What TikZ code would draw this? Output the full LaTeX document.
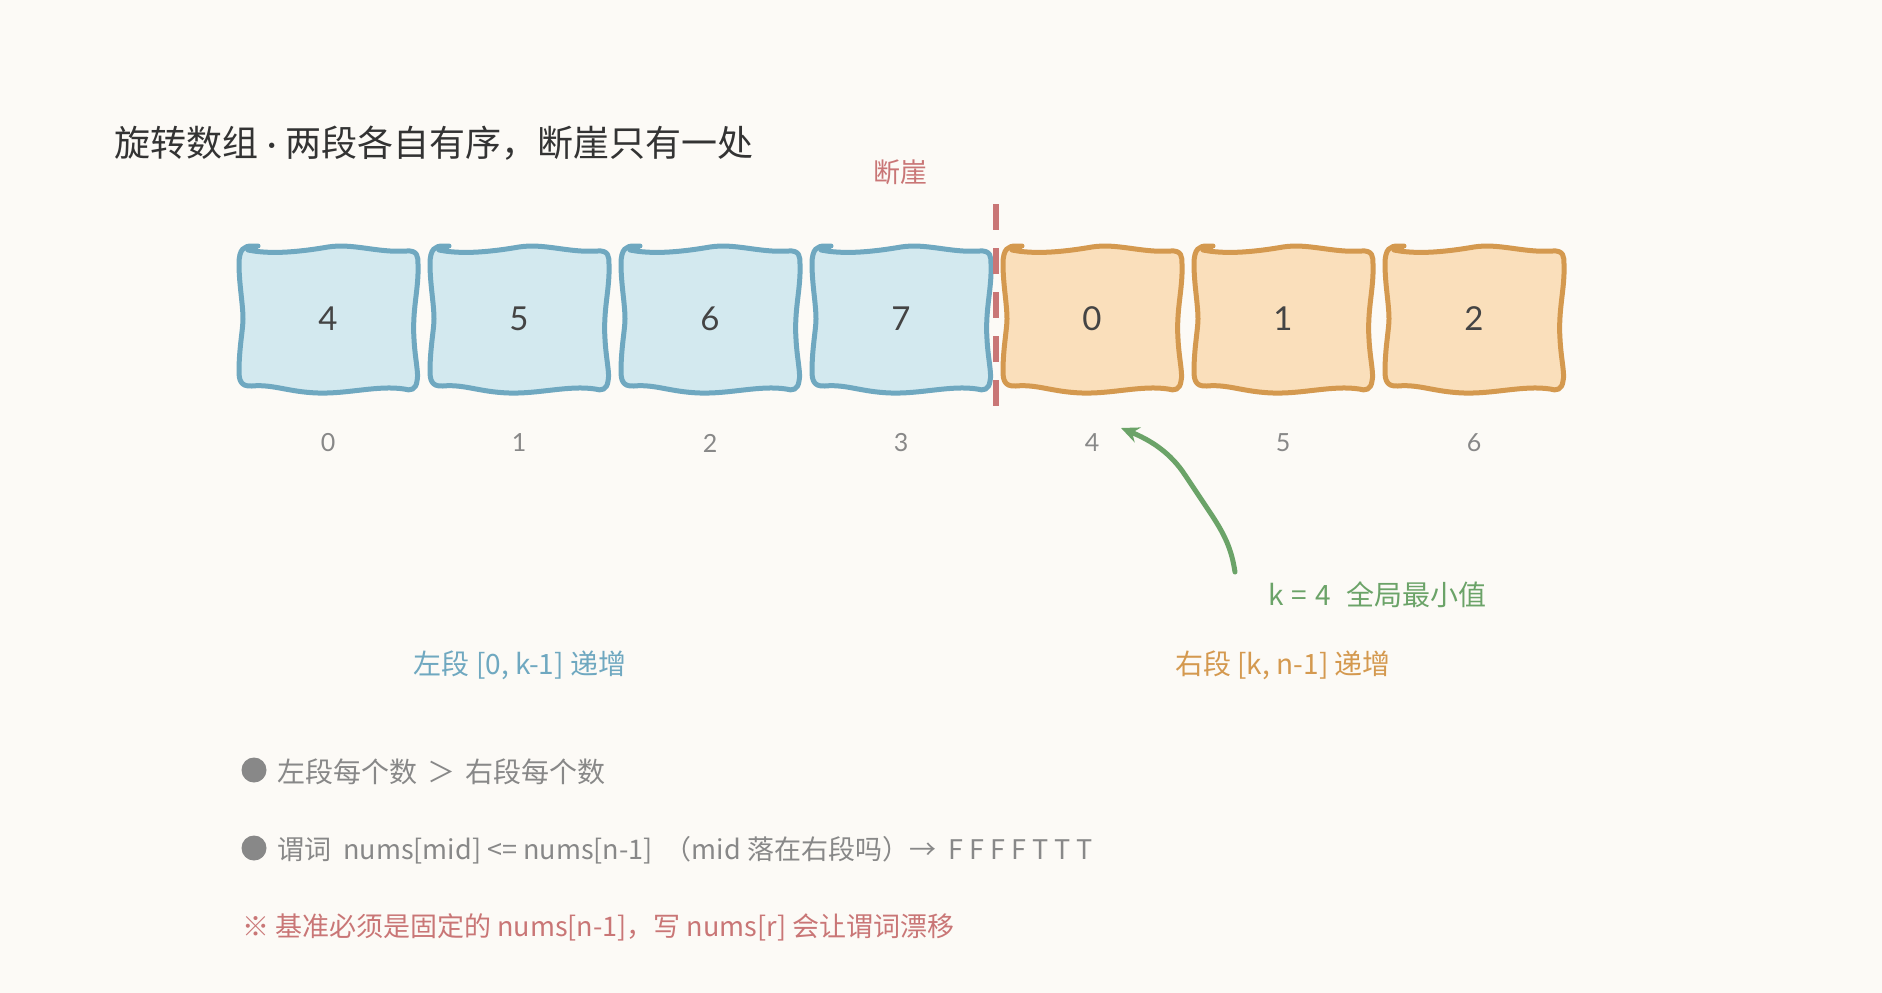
\documentclass[tikz,border=0pt]{standalone}
\usepackage{fontspec}
\newfontfamily\cjk{Noto Sans CJK SC}
\newfontfamily\latf{Lato}
\usetikzlibrary{arrows.meta}
\definecolor{bgc}{HTML}{FCFAF6}
\definecolor{bstroke}{HTML}{6FA8C0}
\definecolor{bfill}{HTML}{D3E9EF}
\definecolor{ostroke}{HTML}{D4994F}
\definecolor{ofill}{HTML}{FADFBB}
\definecolor{gcol}{HTML}{6BA368}
\definecolor{rcol}{HTML}{C97676}
\definecolor{greyt}{HTML}{888888}
\definecolor{titlec}{HTML}{333333}
\definecolor{digc}{HTML}{444444}
\newcommand{\myfs}[1]{\fontsize{#1}{#1}\selectfont}
\newcommand{\wbox}[3]{%
\begin{scope}[shift={(#1,319)}]
\filldraw[draw=#2, fill=#3, line width=5pt, line join=round, line cap=round]
 (-80,-69) .. controls (-60,-65) and (-35,-66) .. (0,-72)
 .. controls (25,-76) and (50,-66) .. (78,-68)
 .. controls (90,-69) and (90,-62) .. (90,-55)
 .. controls (91,-30) and (84,-10) .. (86,20)
 .. controls (87,40) and (91,55) .. (89,62)
 .. controls (88,71) and (82,72) .. (76,70)
 .. controls (50,66) and (20,75) .. (-10,74)
 .. controls (-40,73) and (-55,65) .. (-76,67)
 .. controls (-88,68) and (-89,60) .. (-89,52)
 .. controls (-89,30) and (-85,10) .. (-85,0)
 .. controls (-85,-15) and (-89,-35) .. (-89,-55)
 .. controls (-89,-70) and (-84,-73) .. (-76,-73)
 -- (-70,-73);
\end{scope}}
\tikzset{
  val/.style={font=\latf\myfs{33}, text=digc, inner sep=0pt},
  idx/.style={font=\latf\myfs{25}, text=greyt, inner sep=0pt},
  lbl/.style={font=\cjk\myfs{28}, inner sep=0pt},
  cliff/.style={draw=rcol, line width=6pt, dash pattern=on 26pt off 18pt},
  karrow/.style={draw=gcol, line width=5pt, line cap=round, -{Stealth[length=18pt,width=16pt]}},
  bullet/.style={circle, fill=greyt, minimum size=25pt, inner sep=0pt},
}
\begin{document}
\begin{tikzpicture}[x=1pt,y=-1pt]
\fill[bgc] (0,0) rectangle (1882,993);
\useasboundingbox (0,0) rectangle (1882,993);

\node[lbl, anchor=west, text=titlec, font=\cjk\myfs{36}] (title) at (114,143) {旋转数组\hspace{9pt}{\latf ·}\hspace{9pt}两段各自有序，断崖只有一处};
\node[lbl, text=rcol, font=\cjk\myfs{27}] (cliffl) at (900,172) {断崖};

\wbox{328}{bstroke}{bfill}
\wbox{519}{bstroke}{bfill}
\wbox{710}{bstroke}{bfill}
\wbox{901}{bstroke}{bfill}
\wbox{1092}{ostroke}{ofill}
\wbox{1283}{ostroke}{ofill}
\wbox{1474}{ostroke}{ofill}

\node[val] (v0) at (328,319) {4};
\node[val] (v1) at (519,319) {5};
\node[val] (v2) at (710,319) {6};
\node[val] (v3) at (901,319) {7};
\node[val] (v4) at (1092,319) {0};
\node[val] (v5) at (1283,319) {1};
\node[val] (v6) at (1474,319) {2};

\coordinate (cliffTop) at (996,204);
\coordinate (cliffBot) at (996,408);
\draw[cliff] (cliffTop) -- (cliffBot);

\node[idx] (i0) at (328,443) {0};
\node[idx] (i1) at (519,443) {1};
\node[idx] (i2) at (710,443) {2};
\node[idx] (i3) at (901,443) {3};
\node[idx] (i4) at (1092,443) {4};
\node[idx] (i5) at (1283,443) {5};
\node[idx] (i6) at (1474,443) {6};

\coordinate (ktail) at (1235,572);
\coordinate (khead) at (1121,428);
\draw[karrow] (ktail) .. controls (1231,545) and (1222,530) .. (1205,505) -- (1185,475) .. controls (1170,452) and (1150,440) .. (khead);
\node[lbl, text=gcol, anchor=west] (klbl) at (1268,595) {k\hspace{8pt}=\hspace{8pt}4\hspace{16pt}全局最小值};

\node[lbl, text=bstroke] (leftl) at (520,665) {左段 [0, k-1] 递增};
\node[lbl, text=ostroke] (rightl) at (1283,665) {右段 [k, n-1] 递增};

\node[bullet] (b1) at (254,770) {};
\node[lbl, text=greyt, anchor=west] (t1) at (277,772) {左段每个数\hspace{10pt}＞\hspace{10pt}右段每个数};
\node[bullet] (b2) at (254,848) {};
\node[lbl, text=greyt, anchor=west, font=\cjk\myfs{27}] (t2) at (277,850) {谓词\ \ nums[mid] <= nums[n-1]\ \ （mid 落在右段吗）→\ \ F F F F T T T};
\node[lbl, text=rcol, anchor=west, font=\cjk\myfs{27}] (t3) at (242,927) {※ 基准必须是固定的 nums[n-1]，写 nums[r] 会让谓词漂移};
\end{tikzpicture}
\end{document}
